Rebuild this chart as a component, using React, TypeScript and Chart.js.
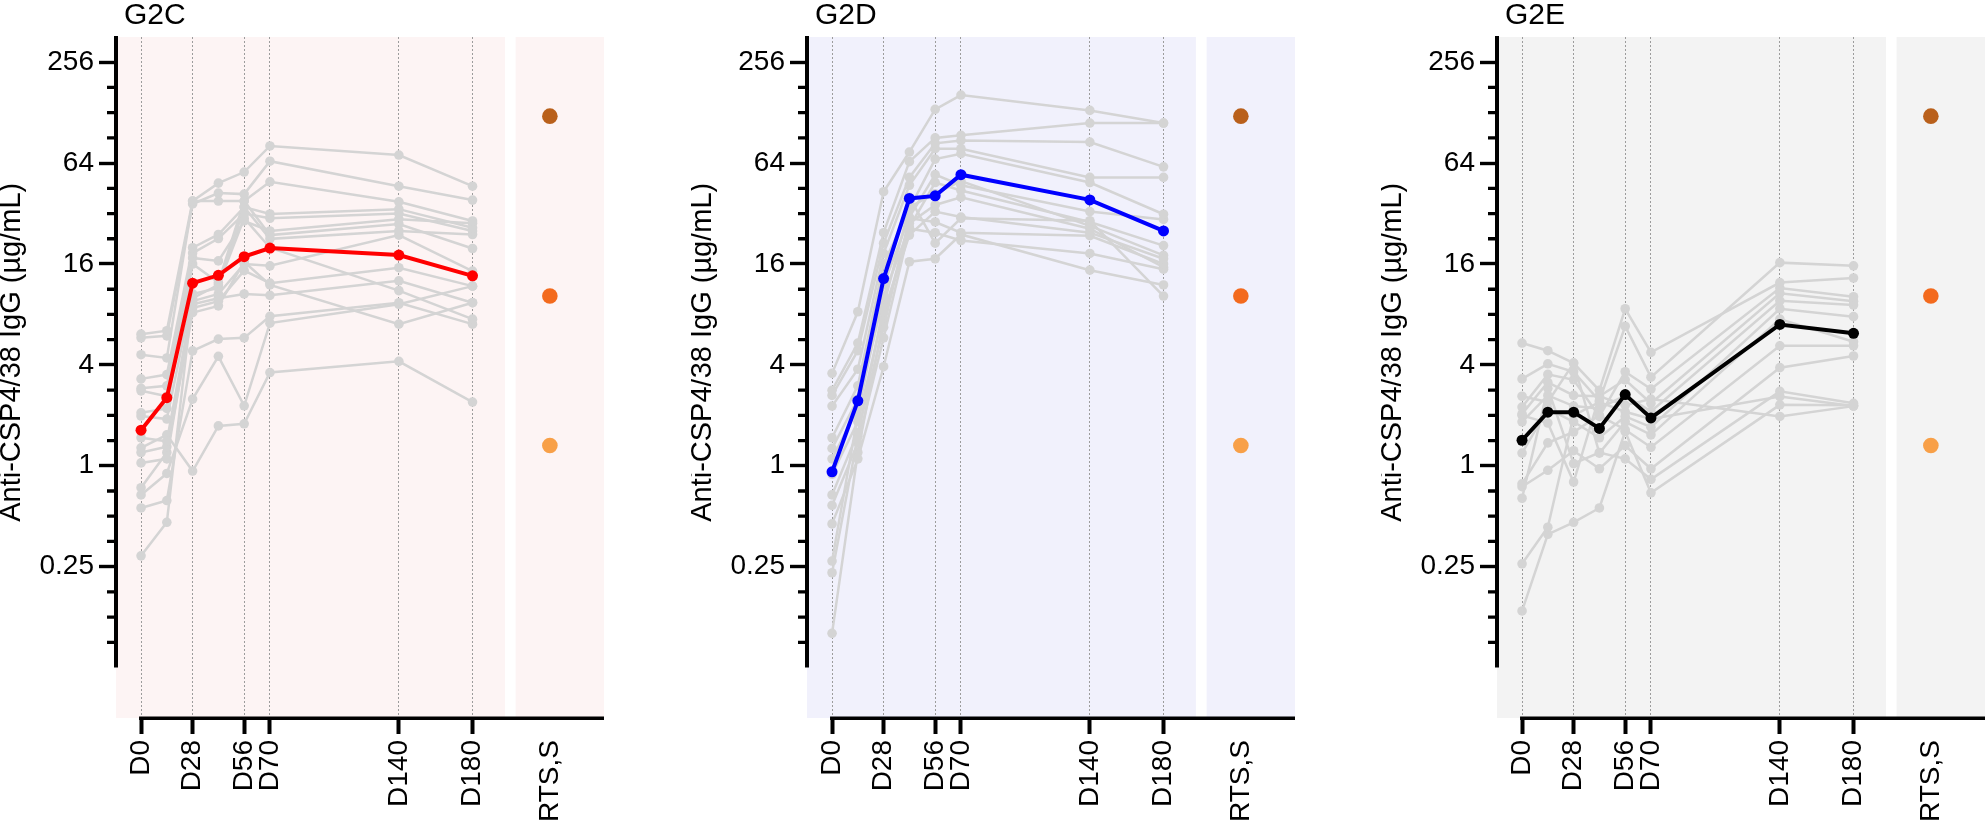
import { useEffect, useRef } from 'react';
import { Chart, registerables } from 'chart.js';

Chart.register(...registerables);

const FONT = "'Liberation Sans', Arial, sans-serif";

// sampling days (x), shared by all groups
const days = [0, 14, 28, 42, 56, 70, 140, 180];

// x axis ticks; RTS,S is a separate comparison column
const xTickValues = [0, 28, 56, 70, 140, 180, 222];
const xTickLabels = ['D0', 'D28', 'D56', 'D70', 'D140', 'D180', 'RTS,S'];
const rtsDay = 222;

// log2 axis: ticks every half step, labels every second step
const yTickValues = [
  0.0884, 0.125, 0.177, 0.25, 0.354, 0.5, 0.707, 1, 1.414, 2, 2.83, 4, 5.66, 8,
  11.31, 16, 22.63, 32, 45.25, 64, 90.5, 128, 181, 256,
];
const yMajorTicks = [0.25, 1, 4, 16, 64, 256];
const yMajorLabels = ['0.25', '1', '4', '16', '64', '256'];
const yTitle = 'Anti-CSP4/38 IgG (µg/mL)';

// RTS,S reference values
const rtsValues = [122, 10.3, 1.32];
const rtsColors = ['#b9601b', '#f36a1d', '#f8a048'];

// G2C: one row per subject, values at each day
const g2cSubjects = [
  [6.1, 6.4, 38, 48.6, 56.6, 81, 71.5, 46.6],
  [5.8, 5.96, 36.5, 42.4, 41.8, 65.7, 46.6, 38.5],
  [4.6, 4.4, 38, 38, 38, 49.5, 37.6, 28.9],
  [3.3, 3.5, 20, 24, 35, 31.8, 34, 26.3],
  [2.9, 3.0, 18.6, 22.7, 32, 30, 32, 25.2],
  [2.8, 2.6, 17.4, 16.7, 28.9, 25.2, 29.6, 28],
  [2.07, 2.2, 16, 12.4, 38, 23.8, 27.7, 19.8],
  [1.98, 1.9, 10.6, 11.5, 35, 22.6, 25.2, 24],
  [1.47, 1.4, 9.6, 10.6, 16, 15.6, 23.8, 14.5],
  [1.2, 1.3, 8.75, 9.6, 14.6, 12.3, 15.2, 11.8],
  [1.04, 1.1, 9.2, 10.0, 10.6, 10.4, 12.7, 9.4],
  [0.29, 0.46, 10, 12, 30, 20, 11.1, 7.5],
  [0.56, 0.62, 4.85, 5.7, 5.8, 7.8, 9.4, 7.0],
  [0.67, 0.9, 2.5, 4.5, 2.28, 7.1, 9.2, 11.8],
  [1.28, 1.53, 0.93, 1.73, 1.78, 3.6, 4.2, 2.4],
  [0.74, 1.2, 8.2, 9.0, 16.5, 12, 7.0, 9.4],
];
const g2cMean = [1.63, 2.55, 12.3, 13.7, 17.7, 19.9, 18.1, 13.6];

// G2D
const g2dSubjects = [
  [3.56, 8.3, 43.2, 74.5, 134, 163, 132, 111],
  [2.82, 5.4, 24.6, 65.3, 90.5, 93.7, 111, 111],
  [2.63, 4.86, 21.3, 52.6, 84, 87.3, 85.5, 60.8],
  [2.27, 3.77, 18.5, 47.2, 78, 78, 52.6, 52.6],
  [1.47, 3.0, 16, 34.1, 67.6, 72.8, 49, 31.7],
  [1.27, 2.5, 12, 30.5, 54.6, 47.2, 32.9, 29.5],
  [1.1, 2.2, 10.3, 26.5, 49, 43.9, 28.5, 20.6],
  [0.89, 1.83, 8.3, 23.8, 32.9, 30.5, 24.6, 17.2],
  [0.67, 1.58, 6.7, 30, 28.5, 24.6, 23.6, 16],
  [0.58, 1.37, 5.8, 26, 24.6, 22.1, 18.5, 14.9],
  [0.45, 1.1, 3.9, 16.5, 17.2, 24, 14.7, 12],
  [0.27, 2.0, 12.5, 40, 21.3, 30, 29, 10.3],
  [0.23, 1.5, 9, 35, 42, 50, 27, 18],
  [0.1, 1.2, 7.5, 28, 36, 40, 26, 15.3],
];
const g2dMean = [0.92, 2.44, 13.1, 39.4, 40.8, 54.6, 38.6, 25.2];

// G2E
const g2eSubjects = [
  [5.4, 4.86, 4.1, 2.82, 8.65, 4.75, 12.4, 13.2],
  [3.3, 4.06, 3.64, 2.44, 6.8, 3.38, 16.3, 15.6],
  [2.24, 3.51, 3.26, 1.97, 3.64, 2.87, 11.5, 10.2],
  [2.04, 3.15, 2.63, 2.6, 3.26, 2.36, 10.7, 9.6],
  [1.83, 2.63, 2.27, 2.2, 2.63, 2.11, 9.64, 9.1],
  [1.19, 2.19, 1.83, 1.47, 1.97, 1.7, 8.65, 7.76],
  [2.6, 2.4, 4.1, 1.19, 1.83, 1.53, 7.5, 5.5],
  [0.78, 1.37, 1.59, 2.0, 1.64, 1.29, 5.2, 5.2],
  [0.75, 0.94, 1.23, 0.96, 1.32, 0.96, 3.85, 4.52],
  [0.64, 2.9, 1.03, 1.2, 1.1, 0.83, 2.78, 2.36],
  [0.26, 0.43, 2.0, 2.4, 2.1, 1.9, 2.59, 2.27],
  [0.136, 0.39, 0.46, 0.56, 1.6, 0.69, 2.31, 2.3],
  [2.0, 1.8, 0.8, 2.6, 2.3, 2.5, 1.97, 2.27],
];
const g2eMean = [1.42, 2.09, 2.09, 1.67, 2.66, 1.93, 6.97, 6.17];

const GRAY = '#d4d4d4';
// where the day block ends and the RTS,S block starts (in days)
const bandGap = [197.6, 203.4];

const framePlugin = {
  id: 'frame',
  beforeDraw(chart: any, _args: any, opts: any) {
    const { ctx, chartArea: a, scales } = chart;
    const x1 = scales.x.getPixelForValue(bandGap[0]);
    const x2 = scales.x.getPixelForValue(bandGap[1]);
    ctx.save();
    ctx.fillStyle = opts.band;
    ctx.fillRect(a.left, a.top, x1 - a.left, a.bottom - a.top);
    ctx.fillRect(x2, a.top, a.right - x2, a.bottom - a.top);
    ctx.restore();
  },
  afterDraw(chart: any, _args: any, opts: any) {
    const { ctx, chartArea: a, scales } = chart;
    const y = scales.y;
    const yEnd = y.getPixelForValue(0.0625);
    ctx.save();
    ctx.strokeStyle = '#000';
    ctx.lineCap = 'butt';

    // y axis line, stops short of the x axis
    ctx.lineWidth = 4;
    ctx.beginPath();
    ctx.moveTo(a.left, a.top - 1);
    ctx.lineTo(a.left, yEnd);
    ctx.stroke();

    // minor ticks
    ctx.lineWidth = 3.3;
    ctx.beginPath();
    y.ticks.forEach((t: any) => {
      if (yMajorTicks.includes(t.value)) return;
      const py = y.getPixelForValue(t.value);
      ctx.moveTo(a.left - 9, py);
      ctx.lineTo(a.left, py);
    });
    ctx.stroke();

    // x axis line, starts at D0
    ctx.lineWidth = 3.5;
    ctx.beginPath();
    ctx.moveTo(scales.x.getPixelForValue(0) - 2, a.bottom + 0.3);
    ctx.lineTo(a.right, a.bottom + 0.3);
    ctx.stroke();

    ctx.fillStyle = '#000';
    ctx.font = `30px ${FONT}`;
    ctx.textAlign = 'left';
    ctx.textBaseline = 'alphabetic';
    ctx.fillText(opts.title, a.left + 8, 24);

    ctx.translate(a.left - 104, (a.top + yEnd) / 2);
    ctx.rotate(-Math.PI / 2);
    ctx.font = `29px ${FONT}`;
    ctx.textAlign = 'center';
    ctx.textBaseline = 'middle';
    ctx.fillText(yTitle, 0, 0);
    ctx.restore();
  },
};

const toPoints = (vals: number[]) => days.map((d, i) => ({ x: d, y: vals[i] }));

type PanelProps = {
  title: string;
  subjects: number[][];
  mean: number[];
  color: string;
  band: string;
  left: number;
};

function Panel({ title, subjects, mean, color, band, left }: PanelProps) {
  const canvasRef = useRef<HTMLCanvasElement>(null);

  useEffect(() => {
    if (!canvasRef.current) return;

    const chart = new Chart(canvasRef.current, {
      type: 'line',
      data: {
        datasets: [
          {
            data: toPoints(mean),
            borderColor: color,
            backgroundColor: color,
            pointBackgroundColor: color,
            borderWidth: 4,
            pointRadius: 5.5,
            pointBorderWidth: 0,
          },
          {
            data: rtsValues.map((v) => ({ x: rtsDay, y: v })),
            showLine: false,
            pointBackgroundColor: rtsColors,
            pointRadius: 7.8,
            pointBorderWidth: 0,
          },
          ...subjects.map((s) => ({
            data: toPoints(s),
            borderColor: GRAY,
            backgroundColor: GRAY,
            pointBackgroundColor: GRAY,
            borderWidth: 2.5,
            pointRadius: 4.8,
            pointBorderWidth: 0,
          })),
        ],
      },
      options: {
        animation: false,
        responsive: false,
        events: [],
        layout: { padding: { left: 0, top: 37, right: 86, bottom: 0 } },
        plugins: {
          legend: { display: false },
          tooltip: { enabled: false },
          frame: { title, band },
        } as any,
        scales: {
          x: {
            type: 'linear',
            min: -13.6,
            max: 251.4,
            bounds: 'data',
            afterBuildTicks: (scale: any) => {
              scale.ticks = xTickValues.map((v) => ({ value: v }));
            },
            afterFit: (scale: any) => {
              scale.height = 107;
            },
            ticks: {
              autoSkip: false,
              minRotation: 90,
              maxRotation: 90,
              padding: 6,
              color: '#000',
              font: { family: FONT, size: 28 },
              callback: (_v: any, i: number) => xTickLabels[i],
            },
            grid: {
              color: (c: any) => (c.tick && c.tick.value === rtsDay ? 'rgba(0,0,0,0)' : '#9c9c9c'),
              lineWidth: 1,
              tickLength: 16,
              tickWidth: 4,
              tickColor: (c: any) => (c.tick && c.tick.value === rtsDay ? 'rgba(0,0,0,0)' : '#000'),
            },
            border: { display: false, dash: [2, 2] },
          },
          y: {
            type: 'logarithmic',
            min: 0.03125,
            max: 362,
            bounds: 'data',
            afterBuildTicks: (scale: any) => {
              scale.ticks = yTickValues.map((v) => ({ value: v, major: yMajorTicks.includes(v) }));
            },
            afterFit: (scale: any) => {
              scale.width = 116;
            },
            ticks: {
              autoSkip: false,
              padding: 5,
              color: '#000',
              font: { family: FONT, size: 28 },
              callback: (v: any) => {
                const k = yMajorTicks.indexOf(Number(v));
                return k >= 0 ? yMajorLabels[k] : '';
              },
            },
            grid: {
              drawOnChartArea: false,
              tickLength: 17,
              tickWidth: 3.4,
              tickColor: (c: any) =>
                c.tick && yMajorTicks.includes(c.tick.value) ? '#000' : 'rgba(0,0,0,0)',
            },
            border: { display: false },
          },
        },
      },
      plugins: [framePlugin as any],
    });

    return () => {
      chart.destroy();
    };
  }, [title, subjects, mean, color, band]);

  return (
    <canvas
      ref={canvasRef}
      width={690}
      height={825}
      style={{ position: 'absolute', left, top: 0, width: 690, height: 825 }}
    />
  );
}

export default function App() {
  return (
    <div
      style={{
        position: 'absolute',
        left: 0,
        top: 0,
        width: 1985,
        height: 825,
        overflow: 'hidden',
        background: '#fff',
      }}
    >
      <Panel title="G2C" subjects={g2cSubjects} mean={g2cMean} color="#ff0000" band="#fdf4f4" left={0} />
      <Panel title="G2D" subjects={g2dSubjects} mean={g2dMean} color="#0000ff" band="#f1f1fc" left={691} />
      <Panel title="G2E" subjects={g2eSubjects} mean={g2eMean} color="#000000" band="#f3f3f3" left={1381} />
    </div>
  );
}
